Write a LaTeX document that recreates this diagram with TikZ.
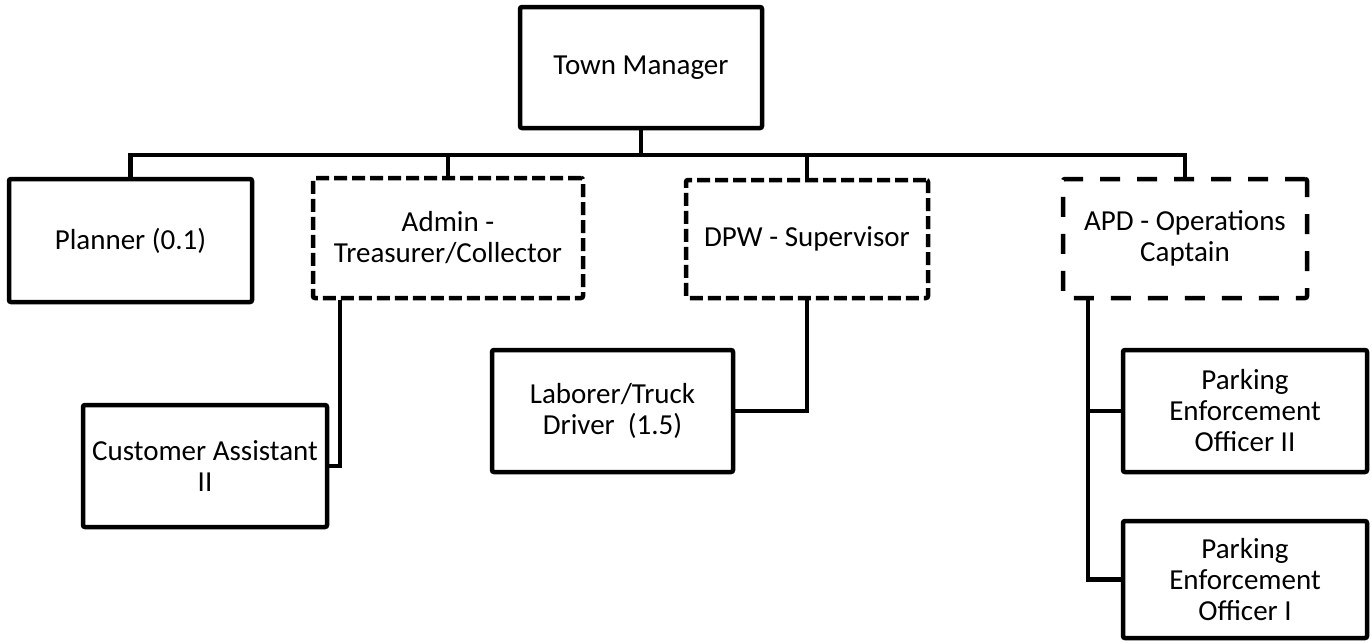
\documentclass[tikz,border=0pt]{standalone}
\usepackage{fontspec}
\setmainfont{Carlito}
\begin{document}
\begin{tikzpicture}[x=0.5pt,y=-0.5pt,
  box/.style={draw, line width=2.25pt, rounded corners=1pt, align=center, inner sep=0pt,
    font=\fontsize{14.5pt}{15.5pt}\selectfont},
  dashbox/.style={box, dash pattern=on 6.5pt off 2.5pt},
  longdashbox/.style={box, dash pattern=on 10pt off 8.5pt},
  conn/.style={line width=2.25pt}]
\useasboundingbox (0,0) rectangle (1372,643);
% nodes
\node[box, minimum width=121pt, minimum height=60.5pt] (tm) at (641,67.5) {Town Manager};
\node[box, minimum width=121.5pt, minimum height=61.5pt] (planner) at (130.5,240.5) {Planner (0.1)};
\node[dashbox, minimum width=135pt, minimum height=60pt] (admin) at (448,238) {Admin -\\Treasurer/Collector};
\node[dashbox, minimum width=121pt, minimum height=59pt] (dpw) at (807,239) {DPW - Supervisor};
\node[longdashbox, minimum width=122pt, minimum height=59.5pt] (apd) at (1185,238.5) {APD - Operations\\Captain};
\node[box, minimum width=122pt, minimum height=61pt] (cust) at (205,466) {Customer Assistant\\II};
\node[box, minimum width=120.5pt, minimum height=61pt] (lab) at (612.5,411) {Laborer/Truck\\Driver\ \ (1.5)};
\node[box, minimum width=122pt, minimum height=61pt] (peo2) at (1245,411) {Parking\\Enforcement\\Officer II};
\node[box, minimum width=122pt, minimum height=58.5pt] (peo1) at (1245,579.5) {Parking\\Enforcement\\Officer I};
% connectors
\coordinate (bus) at (642,155);
\draw[conn] (tm.south) -- (tm.south |- bus);
\draw[conn] (planner.north) |- (apd.north |- bus) -- (apd.north);
\draw[conn] (admin.north) -- (admin.north |- bus);
\draw[conn] (dpw.north) -- (dpw.north |- bus);
\coordinate (adminx) at ([xshift=14.5pt]admin.south west);
\draw[conn] (adminx) |- (cust.east);
\draw[conn] (dpw.south) |- (lab.east);
\coordinate (apdx) at ([xshift=13.5pt]apd.south west);
\draw[conn] (apdx) |- (peo1.west);
\draw[conn] (peo2.west) -- (peo2.west -| apdx);
\end{tikzpicture}
\end{document}
